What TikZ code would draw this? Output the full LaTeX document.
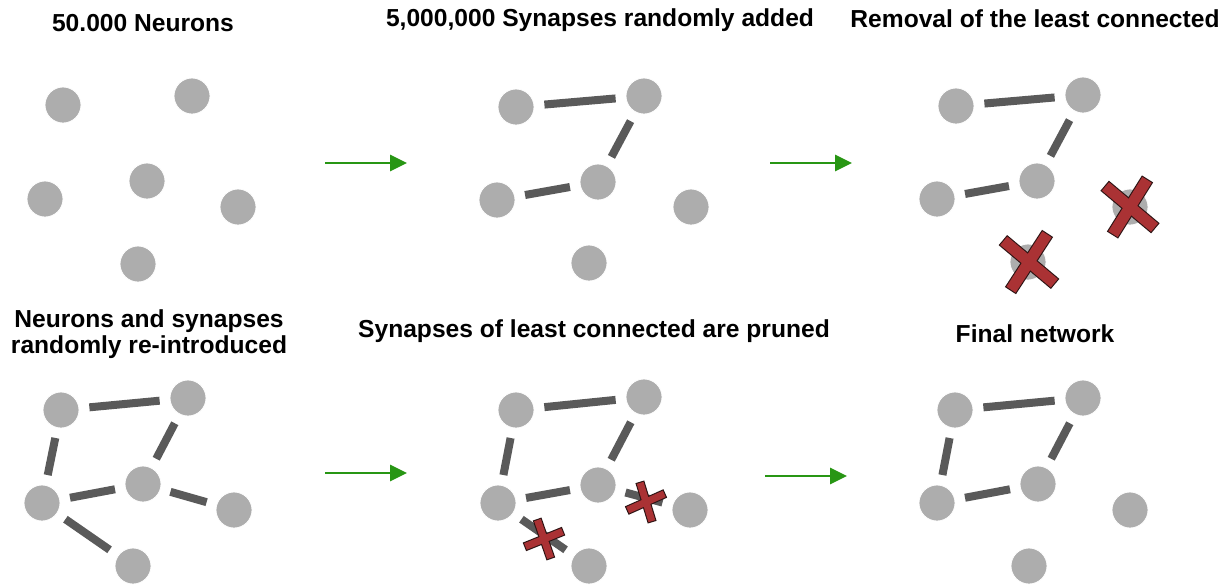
\documentclass[tikz,border=0pt]{standalone}
\usepackage{fontspec}
\setmainfont{Liberation Sans}
\usetikzlibrary{arrows.meta}
\definecolor{neuroncol}{RGB}{173,173,173}
\definecolor{syncol}{RGB}{90,90,90}
\definecolor{xred}{RGB}{170,50,52}
\definecolor{xline}{RGB}{45,20,20}
\definecolor{arrowgreen}{RGB}{40,150,20}
\newcommand\prunecross[6]{% x, y, length, thickness, angle A, angle B
  \begin{scope}[shift={(#1,#2)}]
    \draw[draw=xline,line width=2.2pt,rotate=#5] (-#3/2,-#4/2) rectangle (#3/2,#4/2);
    \draw[draw=xline,line width=2.2pt,rotate=#6] (-#3/2,-#4/2) rectangle (#3/2,#4/2);
    \fill[xred,rotate=#5] (-#3/2,-#4/2) rectangle (#3/2,#4/2);
    \fill[xred,rotate=#6] (-#3/2,-#4/2) rectangle (#3/2,#4/2);
  \end{scope}}
\begin{document}
\begin{tikzpicture}[x=1pt,y=-1pt,
  neuron/.style={circle,fill=neuroncol,draw=white,line width=0.8pt,minimum size=36pt,inner sep=0pt,outer sep=0pt},
  synapse/.style={draw=syncol,line width=8pt,shorten <=10.5pt,shorten >=10.5pt},
  flow/.style={draw=arrowgreen,line width=2.8pt,-{Triangle[length=17pt,width=16pt]}},
  title/.style={font=\fontsize{24.6}{26}\selectfont\bfseries,anchor=base,align=center,inner sep=0pt}]
\useasboundingbox[fill=white] (0,0) rectangle (1230,587);

% titles
\node[title] (h1) at (143,31) {50.000 Neurons};
\node[title] (h2) at (600,26) {5,000,000 Synapses randomly added};
\node[title] (h3) at (1035,27) {Removal of the least connected};
\node[title] (h4) at (149,353) {Neurons and synapses\\randomly re-introduced};
\node[title] (h5) at (594,337) {Synapses of least connected are pruned};
\node[title] (h6) at (1035,342) {Final network};

% panel 1
\node[neuron] (a1) at (63,105) {};
\node[neuron] (a2) at (192,96) {};
\node[neuron] (a3) at (147,181) {};
\node[neuron] (a4) at (45,199) {};
\node[neuron] (a5) at (238,207) {};
\node[neuron] (a6) at (138,264) {};

% panel 2
\node[neuron] (b1) at (516,107) {};
\node[neuron] (b2) at (644,96) {};
\node[neuron] (b3) at (598,182) {};
\node[neuron] (b4) at (497,200) {};
\node[neuron] (b5) at (691,207) {};
\node[neuron] (b6) at (589,263) {};
\draw[synapse] (b1) -- (b2);
\draw[synapse] (b2) -- (b3);
\draw[synapse] (b3) -- (b4);

% panel 3
\node[neuron] (c1) at (956,106) {};
\node[neuron] (c2) at (1083,95) {};
\node[neuron] (c3) at (1037,181) {};
\node[neuron] (c4) at (937,199) {};
\node[neuron] (c5) at (1130,207) {};
\node[neuron] (c6) at (1028,262) {};
\draw[synapse] (c1) -- (c2);
\draw[synapse] (c2) -- (c3);
\draw[synapse] (c3) -- (c4);
\prunecross{1130}{207}{64}{11}{-40}{58}
\prunecross{1029}{262}{66}{11}{-40}{57}

% panel 4
\node[neuron] (d1) at (61,410) {};
\node[neuron] (d2) at (188,398) {};
\node[neuron] (d3) at (143,484) {};
\node[neuron] (d4) at (42,503) {};
\node[neuron] (d5) at (234,510) {};
\node[neuron] (d6) at (133,566) {};
\draw[synapse] (d1) -- (d2);
\draw[synapse] (d1) -- (d4);
\draw[synapse] (d2) -- (d3);
\draw[synapse] (d4) -- (d3);
\draw[synapse] (d3) -- (d5);
\draw[synapse] (d4) -- (d6);

% panel 5
\node[neuron] (e1) at (516,410) {};
\node[neuron] (e2) at (644,397) {};
\node[neuron] (e3) at (598,485) {};
\node[neuron] (e4) at (498,503) {};
\node[neuron] (e5) at (690,510) {};
\node[neuron] (e6) at (589,566) {};
\draw[synapse] (e1) -- (e2);
\draw[synapse] (e1) -- (e4);
\draw[synapse] (e2) -- (e3);
\draw[synapse] (e4) -- (e3);
\draw[synapse] (e3) -- (e5);
\draw[synapse] (e4) -- (e6);
\prunecross{646}{502}{40}{7}{24}{-73}
\prunecross{544}{539}{40}{7}{22}{-71}

% panel 6
\node[neuron] (f1) at (955,410) {};
\node[neuron] (f2) at (1083,398) {};
\node[neuron] (f3) at (1038,484) {};
\node[neuron] (f4) at (937,503) {};
\node[neuron] (f5) at (1130,510) {};
\node[neuron] (f6) at (1029,566) {};
\draw[synapse] (f1) -- (f2);
\draw[synapse] (f1) -- (f4);
\draw[synapse] (f2) -- (f3);
\draw[synapse] (f4) -- (f3);

% flow arrows
\coordinate (s1) at (325,163); \coordinate (t1) at (407,163);
\coordinate (s2) at (770,163); \coordinate (t2) at (852,163);
\coordinate (s3) at (325,473); \coordinate (t3) at (407,473);
\coordinate (s4) at (765,476); \coordinate (t4) at (847,476);
\draw[flow] (s1) -- (t1);
\draw[flow] (s2) -- (t2);
\draw[flow] (s3) -- (t3);
\draw[flow] (s4) -- (t4);
\end{tikzpicture}
\end{document}
